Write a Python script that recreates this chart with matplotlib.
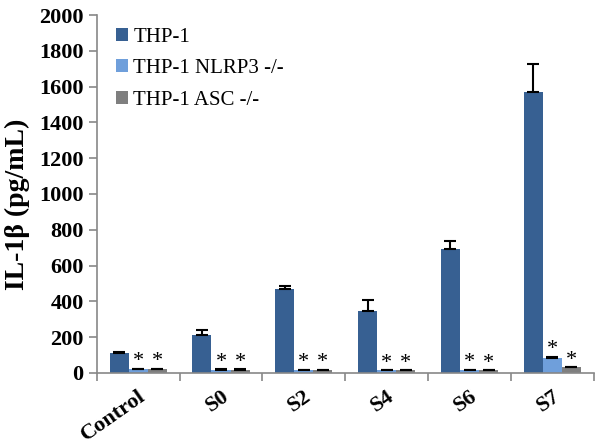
import numpy as np
import matplotlib.pyplot as plt
from matplotlib.ticker import MultipleLocator, FixedLocator

plt.rcParams['font.family'] = ['Liberation Serif', 'DejaVu Serif']

categories = ["Control", "S0", "S2", "S4", "S6", "S7"]
series = ["THP-1", "THP-1 NLRP3 -/-", "THP-1 ASC -/-"]
thp1 = [110, 210, 470, 345, 690, 1570]
thp1_err = [8, 30, 15, 60, 45, 155]
nlrp3 = [20, 18, 15, 14, 15, 85]
nlrp3_err = [3, 3, 3, 3, 3, 6]
asc = [20, 18, 15, 14, 14, 30]
asc_err = [3, 3, 3, 3, 3, 3]
colors = ["#376092", "#6f9fdb", "#7f7f7f"]

fig, ax = plt.subplots(figsize=(6.01, 4.47), dpi=100)
fig.subplots_adjust(left=0.161, right=0.988, bottom=0.166, top=0.966)

x = np.arange(len(categories))
w = 0.23
values = [thp1, nlrp3, asc]
errs = [thp1_err, nlrp3_err, asc_err]
for i, (vals, err, c, name) in enumerate(zip(values, errs, colors, series)):
    pos = x + (i - 1) * w
    ax.bar(pos, vals, w, color=c, label=name, zorder=2)
    ax.errorbar(pos, vals, yerr=[np.zeros(len(vals)), err], fmt="none",
                ecolor="black", elinewidth=1.5, capsize=4, capthick=1.5, zorder=3)
    if i > 0:
        for p, v, e in zip(pos, vals, err):
            ax.annotate("*", (p, v + e), xytext=(0, -2), textcoords="offset points",
                        ha="center", va="bottom", fontsize=16)

ax.set_xlim(-0.5, len(categories) - 0.5)
ax.set_ylim(0, 2000)
ax.yaxis.set_major_locator(MultipleLocator(200))
ax.set_xticks(x)
ax.set_xticklabels(categories, rotation=35, ha="right", rotation_mode="anchor",
                   fontsize=16, fontweight="bold")
ax.xaxis.set_minor_locator(FixedLocator(np.arange(-0.5, len(categories), 1)))
ax.tick_params(axis="x", which="major", length=0, pad=10)
ax.tick_params(axis="x", which="minor", length=6, width=1.2, color="#888888", direction="out")
ax.tick_params(axis="y", length=6, width=1.2, color="#888888", labelsize=16)
for lbl in ax.get_yticklabels():
    lbl.set_fontweight("bold")

for s in ["top", "right"]:
    ax.spines[s].set_visible(False)
for s in ["left", "bottom"]:
    ax.spines[s].set_color("#888888")
    ax.spines[s].set_linewidth(1.2)

ax.set_ylabel("IL-1β (pg/mL)", fontsize=20, fontweight="bold")
ax.yaxis.set_label_coords(-0.135, 0.47)

ax.legend(loc="upper left", bbox_to_anchor=(0.0, 1.018), frameon=False, fontsize=15,
          handlelength=0.6, handleheight=0.6, handletextpad=0.25, labelspacing=0.6)

fig.savefig("out.png", dpi=100)
